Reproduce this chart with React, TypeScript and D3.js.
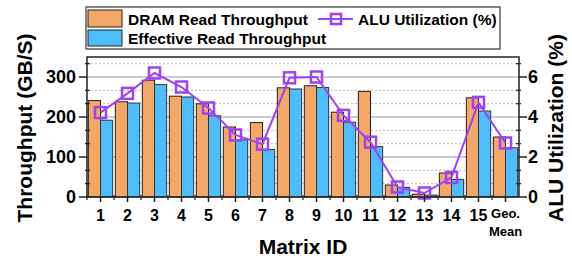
import * as d3 from "d3";
import React from "react";

const categories = ["1", "2", "3", "4", "5", "6", "7", "8", "9", "10", "11", "12", "13", "14", "15", "Geo. Mean"];
const dramThroughput = [241, 238, 292, 252, 233, 175, 186, 273, 278, 212, 264, 30, 7, 60, 248, 150];
const effectiveThroughput = [192, 235, 281, 250, 203, 143, 119, 270, 274, 187, 126, 24, 5, 44, 215, 123];
const aluUtil = [4.22, 5.18, 6.2, 5.5, 4.45, 3.1, 2.64, 5.96, 6.0, 4.08, 2.74, 0.5, 0.2, 0.98, 4.73, 2.7];
const leftTicks = [0, 100, 200, 300];
const rightTicks = [0, 2, 4, 6];

const W = 572;
const H = 261;
const plot = { left: 87, right: 519, top: 57, bottom: 197 };
const FONT = "'Liberation Sans', Arial, sans-serif";
const ORANGE = "#F5A865";
const BLUE = "#4DBDFD";
const PURPLE = "#9D42F5";

export default function App() {
  const x = d3.scaleBand().domain(categories).range([plot.left, plot.right]).padding(0);
  const inner = d3
    .scaleBand()
    .domain(["dram", "eff"])
    .range([0, x.bandwidth()])
    .paddingOuter(0.11)
    .paddingInner(0);
  const yL = d3.scaleLinear().domain([0, 350]).range([plot.bottom, plot.top]);
  const yR = d3.scaleLinear().domain([0, 7]).range([plot.bottom, plot.top]);

  const minorL = d3.range(0, 351, 100 / 3).filter((v) => Math.round(v) % 100 !== 0);
  const minorR = d3.range(0, 7.01, 2 / 3).filter((v) => Math.round(v * 3) % 6 !== 0);

  const line = d3
    .line<number>()
    .x((d, i) => (x(categories[i]) as number) + x.bandwidth() / 2)
    .y((d) => yR(d));

  const ms = 11;

  return (
    <svg width={W} height={H} style={{ position: "absolute", left: 0, top: 0, background: "#fff" }} fontFamily={FONT} fontWeight="bold">
      {/* grid */}
      {minorL.map((v) => (
        <line key={"gm" + v} x1={plot.left} x2={plot.right} y1={yL(v)} y2={yL(v)} stroke="#bbb" strokeWidth={1} strokeDasharray="2,2" />
      ))}
      {leftTicks.slice(1).map((v) => (
        <line key={"gM" + v} x1={plot.left} x2={plot.right} y1={yL(v)} y2={yL(v)} stroke="#999" strokeWidth={1.2} />
      ))}

      {/* bars */}
      {categories.map((c, i) => (
        <g key={c}>
          <rect
            x={(x(c) as number) + (inner("dram") as number)}
            y={yL(dramThroughput[i])}
            width={inner.bandwidth()}
            height={plot.bottom - yL(dramThroughput[i])}
            fill={ORANGE}
            stroke="#222"
            strokeWidth={1}
          />
          <rect
            x={(x(c) as number) + (inner("eff") as number)}
            y={yL(effectiveThroughput[i])}
            width={inner.bandwidth()}
            height={plot.bottom - yL(effectiveThroughput[i])}
            fill={BLUE}
            stroke="#333"
            strokeWidth={1}
          />
        </g>
      ))}

      {/* line */}
      <path d={line(aluUtil) as string} fill="none" stroke={PURPLE} strokeWidth={2} />
      {aluUtil.map((v, i) => (
        <rect
          key={"m" + i}
          x={(x(categories[i]) as number) + x.bandwidth() / 2 - ms / 2}
          y={yR(v) - ms / 2}
          width={ms}
          height={ms}
          fill="none"
          stroke={PURPLE}
          strokeWidth={2.5}
        />
      ))}

      {/* frame */}
      <rect x={plot.left} y={plot.top} width={plot.right - plot.left} height={plot.bottom - plot.top} fill="none" stroke="#222" strokeWidth={1.5} />

      {/* left axis */}
      {leftTicks.map((v) => (
        <g key={"lt" + v}>
          <line x1={plot.left - 8} x2={plot.left} y1={yL(v)} y2={yL(v)} stroke="#222" strokeWidth={1.5} />
          <text x={plot.left - 11} y={yL(v)} dy="0.36em" textAnchor="end" fontSize={18}>
            {v}
          </text>
        </g>
      ))}
      {minorL.map((v) => (
        <line key={"lm" + v} x1={plot.left - 2} x2={plot.left + 3} y1={yL(v)} y2={yL(v)} stroke="#222" strokeWidth={1.2} />
      ))}

      {/* right axis */}
      {rightTicks.map((v) => (
        <g key={"rt" + v}>
          <line x1={plot.right} x2={plot.right + 8} y1={yR(v)} y2={yR(v)} stroke="#222" strokeWidth={1.5} />
          <text x={plot.right + 9} y={yR(v)} dy="0.36em" textAnchor="start" fontSize={18}>
            {v}
          </text>
        </g>
      ))}
      {minorR.map((v) => (
        <line key={"rm" + v} x1={plot.right - 3} x2={plot.right + 2} y1={yR(v)} y2={yR(v)} stroke="#222" strokeWidth={1.2} />
      ))}

      {/* x axis */}
      {categories.map((c, i) => {
        const cx = (x(c) as number) + x.bandwidth() / 2;
        return (
          <g key={"xt" + c}>
            <line x1={cx} x2={cx} y1={plot.bottom} y2={plot.bottom + 5} stroke="#222" strokeWidth={1.5} />
            <line x1={x(c) as number} x2={x(c) as number} y1={plot.bottom - 2} y2={plot.bottom + 3} stroke="#222" strokeWidth={1.2} />
            {c === "Geo. Mean" ? (
              <text x={cx} textAnchor="middle" fontSize={13}>
                <tspan x={cx} y={218}>Geo.</tspan>
                <tspan x={cx} y={236}>Mean</tspan>
              </text>
            ) : (
              <text x={cx} y={221} textAnchor="middle" fontSize={16}>
                {c}
              </text>
            )}
          </g>
        );
      })}

      {/* axis titles */}
      <text x={(plot.left + plot.right) / 2} y={254} textAnchor="middle" fontSize={21}>
        Matrix ID
      </text>
      <text transform={`translate(32,128) rotate(-90)`} textAnchor="middle" fontSize={21}>
        Throughput (GB/S)
      </text>
      <text transform={`translate(563,128) rotate(-90)`} textAnchor="middle" fontSize={21}>
        ALU Utilization (%)
      </text>

      {/* legend */}
      <rect x={86} y={7} width={414} height={42} fill="#fff" stroke="#333" strokeWidth={1.2} />
      <rect x={88} y={10} width={34} height={17} fill={ORANGE} stroke="#222" strokeWidth={1} />
      <text x={128} y={25} fontSize={15.5}>DRAM Read Throughput</text>
      <rect x={88} y={30} width={34} height={16} fill={BLUE} stroke="#222" strokeWidth={1} />
      <text x={128} y={44} fontSize={15.5}>Effective Read Throughput</text>
      <line x1={318} x2={353} y1={19} y2={19} stroke={PURPLE} strokeWidth={2} />
      <rect x={336 - 5} y={19 - 5} width={10} height={10} fill="none" stroke={PURPLE} strokeWidth={2.5} />
      <text x={358} y={25} fontSize={15.5}>ALU Utilization (%)</text>
    </svg>
  );
}
